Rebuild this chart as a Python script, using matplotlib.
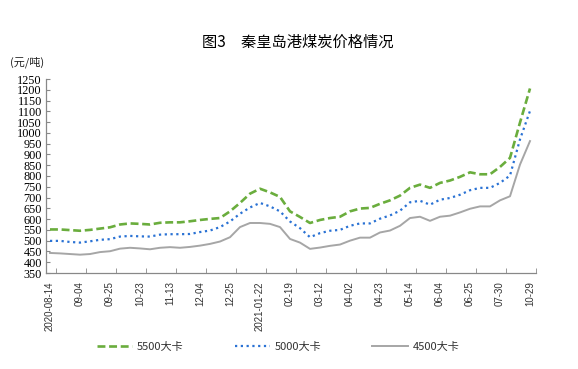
import matplotlib
matplotlib.use("Agg")
import matplotlib.pyplot as plt
import numpy as np

plt.rcParams['font.family'] = ['Noto Sans CJK SC', 'DejaVu Sans']

tick_labels = ["2020-08-14", "09-04", "09-25", "10-23", "11-13", "12-04", "12-25",
               "2021-01-22", "02-19", "03-12", "04-02", "04-23", "05-14", "06-04",
               "06-25", "07-30", "10-29"]

s5500 = [552, 552, 549, 546, 550, 556, 562, 575, 580, 578, 575, 583, 585, 585, 590, 596,
         601, 605, 636, 675, 718, 741, 724, 703, 636, 610, 582, 596, 605, 611, 636, 649,
         652, 671, 687, 709, 745, 760, 745, 768, 779, 796, 817, 808, 808, 842, 884, 1048, 1206]
s5000 = [499, 499, 494, 491, 497, 504, 507, 519, 522, 520, 519, 528, 530, 530, 531, 540,
         547, 563, 589, 625, 654, 675, 659, 636, 589, 558, 516, 535, 546, 550, 569, 580,
         580, 602, 617, 639, 678, 685, 667, 690, 698, 713, 734, 745, 745, 768, 802, 970, 1102]
s4500 = [443, 441, 438, 435, 438, 447, 451, 463, 467, 464, 460, 467, 470, 467, 471, 477,
         485, 496, 516, 563, 582, 582, 578, 563, 508, 491, 462, 468, 476, 482, 500, 514,
         514, 538, 547, 569, 605, 611, 592, 611, 616, 631, 648, 659, 659, 687, 706, 853, 962]

series_names = ["5500大卡", "5000大卡", "4500大卡"]

fig = plt.figure(figsize=(5.78, 3.69), dpi=100)
ax = fig.add_axes([46/578, 1-273/369, 490/578, 194/369])

x = np.arange(len(s5500))
ax.plot(x, s5500, color='#6AAD3D', lw=1.9, dashes=(3, 1.4), label=series_names[0])
ax.plot(x, s5000, color='#2A72D4', lw=1.6, dashes=(1, 1.6), label=series_names[1])
ax.plot(x, s4500, color='#A6A6A6', lw=1.4, label=series_names[2])

ax.set_xlim(-0.4, 48.6)
ax.set_ylim(350, 1250)
ax.set_yticks(np.arange(350, 1251, 50))
ax.set_yticklabels([str(v) for v in range(350, 1251, 50)],
                   fontfamily='Liberation Serif', fontsize=8.8, color='black')

label_pos = np.arange(0, len(s5500), 3)
ax.set_xticks(label_pos)
ax.set_xticklabels(tick_labels, rotation=90, fontfamily='Liberation Sans',
                   fontsize=7, color='#333333')
ax.set_xticks(label_pos + 0.55, minor=True)
ax.tick_params(axis='x', which='major', length=0, pad=6)
ax.tick_params(axis='x', which='minor', direction='in', length=3.5, color='#888888')
ax.tick_params(axis='y', direction='in', length=3, color='#888888', pad=3)

for sp in ['top', 'right']:
    ax.spines[sp].set_visible(False)
for sp in ['left', 'bottom']:
    ax.spines[sp].set_color('#888888')
    ax.spines[sp].set_linewidth(0.9)

fig.text(0.515, 1-42/369, "图3　秦皇岛港煤炭价格情况", ha='center', va='center',
         fontsize=11, color='black')
fig.text(10/578, 1-62/369, "(元/吨)", ha='left', va='center', fontsize=8, color='#222222')

leg = fig.legend(loc='center', bbox_to_anchor=(278/578, 1-347/369), ncol=3,
                 frameon=False, fontsize=8, handlelength=3.2, handletextpad=0.4,
                 columnspacing=4.6)
for t in leg.get_texts():
    t.set_color('#333333')

fig.savefig("out.png", dpi=100)
